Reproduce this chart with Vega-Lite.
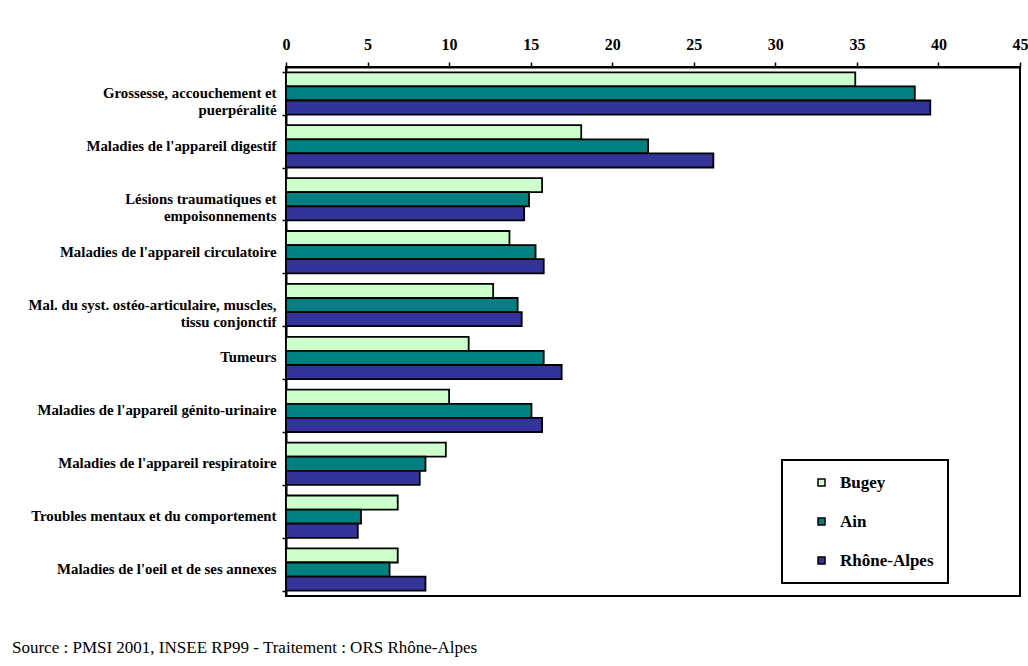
{
  "$schema": "https://vega.github.io/schema/vega-lite/v6.json",
  "autosize": {"type": "none"},
  "padding": {"left": 286, "top": 67, "right": 8, "bottom": 70},
  "width": 734,
  "height": 529,
  "background": "white",
  "config": {
    "font": "'Liberation Serif', 'Times New Roman', serif",
    "view": {"stroke": "black", "strokeWidth": 2},
    "legend": {"strokeWidth": 2}
  },
  "title": {
    "text": "Source : PMSI 2001, INSEE RP99 - Traitement : ORS Rhône-Alpes",
    "orient": "bottom",
    "anchor": "start",
    "frame": "group",
    "dx": -274,
    "offset": 44,
    "baseline": "top",
    "font": "'Liberation Serif', 'Times New Roman', serif",
    "fontSize": 17,
    "fontWeight": "normal",
    "color": "black"
  },
  "data": {
    "values": [
      {"categorie": "Grossesse, accouchement et|puerpéralité", "serie": "Bugey", "valeur": 34.9},
      {"categorie": "Grossesse, accouchement et|puerpéralité", "serie": "Ain", "valeur": 38.55},
      {"categorie": "Grossesse, accouchement et|puerpéralité", "serie": "Rhône-Alpes", "valeur": 39.5},
      {"categorie": "Maladies de l'appareil digestif", "serie": "Bugey", "valeur": 18.1},
      {"categorie": "Maladies de l'appareil digestif", "serie": "Ain", "valeur": 22.2},
      {"categorie": "Maladies de l'appareil digestif", "serie": "Rhône-Alpes", "valeur": 26.2},
      {"categorie": "Lésions traumatiques et|empoisonnements", "serie": "Bugey", "valeur": 15.7},
      {"categorie": "Lésions traumatiques et|empoisonnements", "serie": "Ain", "valeur": 14.9},
      {"categorie": "Lésions traumatiques et|empoisonnements", "serie": "Rhône-Alpes", "valeur": 14.6},
      {"categorie": "Maladies de l'appareil circulatoire", "serie": "Bugey", "valeur": 13.7},
      {"categorie": "Maladies de l'appareil circulatoire", "serie": "Ain", "valeur": 15.3},
      {"categorie": "Maladies de l'appareil circulatoire", "serie": "Rhône-Alpes", "valeur": 15.8},
      {"categorie": "Mal. du syst. ostéo-articulaire, muscles,|tissu conjonctif", "serie": "Bugey", "valeur": 12.7},
      {"categorie": "Mal. du syst. ostéo-articulaire, muscles,|tissu conjonctif", "serie": "Ain", "valeur": 14.2},
      {"categorie": "Mal. du syst. ostéo-articulaire, muscles,|tissu conjonctif", "serie": "Rhône-Alpes", "valeur": 14.45},
      {"categorie": "Tumeurs", "serie": "Bugey", "valeur": 11.2},
      {"categorie": "Tumeurs", "serie": "Ain", "valeur": 15.8},
      {"categorie": "Tumeurs", "serie": "Rhône-Alpes", "valeur": 16.9},
      {"categorie": "Maladies de l'appareil génito-urinaire", "serie": "Bugey", "valeur": 10.0},
      {"categorie": "Maladies de l'appareil génito-urinaire", "serie": "Ain", "valeur": 15.05},
      {"categorie": "Maladies de l'appareil génito-urinaire", "serie": "Rhône-Alpes", "valeur": 15.7},
      {"categorie": "Maladies de l'appareil respiratoire", "serie": "Bugey", "valeur": 9.8},
      {"categorie": "Maladies de l'appareil respiratoire", "serie": "Ain", "valeur": 8.55},
      {"categorie": "Maladies de l'appareil respiratoire", "serie": "Rhône-Alpes", "valeur": 8.2},
      {"categorie": "Troubles mentaux et du comportement", "serie": "Bugey", "valeur": 6.85},
      {"categorie": "Troubles mentaux et du comportement", "serie": "Ain", "valeur": 4.6},
      {"categorie": "Troubles mentaux et du comportement", "serie": "Rhône-Alpes", "valeur": 4.4},
      {"categorie": "Maladies de l'oeil et de ses annexes", "serie": "Bugey", "valeur": 6.85},
      {"categorie": "Maladies de l'oeil et de ses annexes", "serie": "Ain", "valeur": 6.35},
      {"categorie": "Maladies de l'oeil et de ses annexes", "serie": "Rhône-Alpes", "valeur": 8.55}
    ]
  },
  "mark": {"type": "bar", "stroke": "black", "strokeWidth": 1.8},
  "encoding": {
    "y": {
      "field": "categorie",
      "type": "nominal",
      "sort": null,
      "scale": {"paddingInner": 0.2, "paddingOuter": 0.1},
      "axis": {
        "title": null,
        "orient": "left",
        "domainColor": "black",
        "domainWidth": 2,
        "tickColor": "black",
        "tickWidth": 1.5,
        "tickSize": 4,
        "tickBand": "extent",
        "labelExpr": "indexof(datum.label, '|') >= 0 ? [split(datum.label, '|')[0], pad(split(datum.label, '|')[1], length(split(datum.label, '|')[0]), '\u00a0', 'right')] : datum.label",
        "labelFont": "'Liberation Serif', 'Times New Roman', serif",
        "labelFontSize": 14.8,
        "labelFontWeight": "bold",
        "labelColor": "black",
        "labelLineHeight": 17,
        "labelLimit": 400,
        "labelBaseline": "middle",
        "labelAlign": "right",
        "labelPadding": 6
      }
    },
    "yOffset": {
      "field": "serie",
      "type": "nominal",
      "sort": ["Bugey", "Ain", "Rhône-Alpes"],
      "scale": {"paddingInner": 0, "paddingOuter": 0}
    },
    "x": {
      "field": "valeur",
      "type": "quantitative",
      "scale": {"domain": [0, 45], "nice": false},
      "axis": {
        "title": null,
        "orient": "top",
        "values": [0, 5, 10, 15, 20, 25, 30, 35, 40, 45],
        "grid": false,
        "domainColor": "black",
        "domainWidth": 2,
        "tickColor": "black",
        "tickWidth": 1.5,
        "tickSize": 5,
        "labelFont": "'Liberation Serif', 'Times New Roman', serif",
        "labelFontSize": 16,
        "labelFontWeight": "bold",
        "labelColor": "black",
        "labelPadding": 10,
        "labelFlush": false
      }
    },
    "color": {
      "field": "serie",
      "type": "nominal",
      "sort": ["Bugey", "Ain", "Rhône-Alpes"],
      "scale": {"domain": ["Bugey", "Ain", "Rhône-Alpes"], "range": ["#CCFFCC", "#008080", "#333399"]},
      "legend": {
        "title": null,
        "orient": "none",
        "legendX": 496,
        "legendY": 393,
        "strokeColor": "black",
        "fillColor": "white",
        "padding": 14,
        "symbolOffset": 17,
        "symbolType": "square",
        "symbolSize": 49,
        "symbolStrokeColor": "black",
        "symbolStrokeWidth": 1.5,
        "labelFont": "'Liberation Serif', 'Times New Roman', serif",
        "labelFontSize": 17,
        "labelFontWeight": "bold",
        "labelColor": "black",
        "labelOffset": 10,
        "rowPadding": 21
      }
    }
  }
}
